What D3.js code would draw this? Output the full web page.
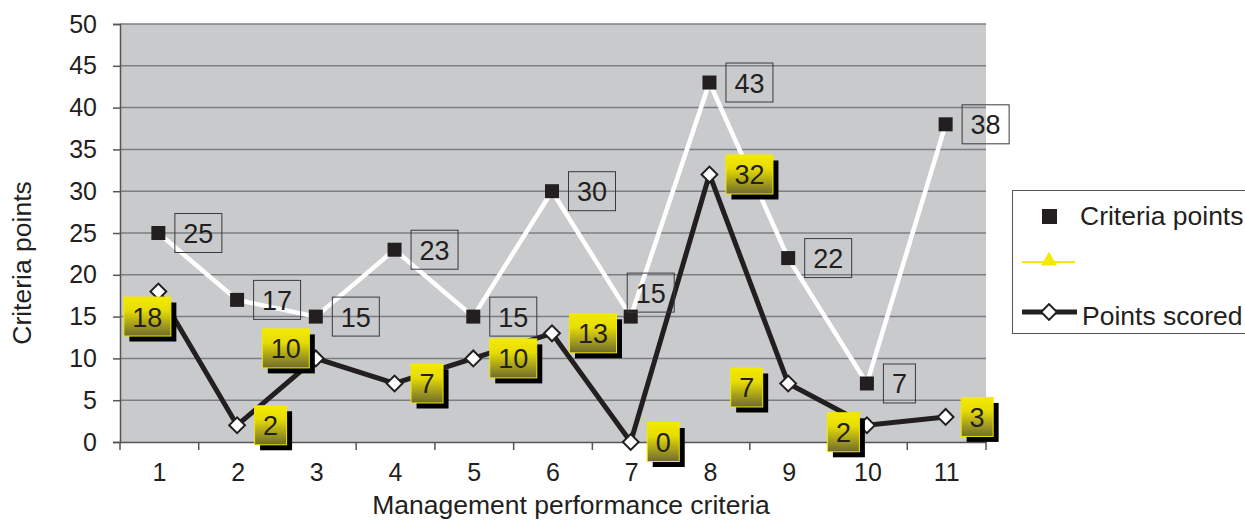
<!DOCTYPE html>
<html>
  <head>
    <meta charset="utf-8" />
    <title>Management performance criteria</title>
    <script src="https://d3js.org/d3.v7.min.js"></script>
    <style>
      body {
        margin: 0;
        background: #fff;
        font-family: Arial, "Liberation Sans", sans-serif;
      }
      svg {
        display: block;
      }
    </style>
  </head>
  <body>
    <svg id="chart"></svg>
    <script>
      // data
      const criteria = ["1", "2", "3", "4", "5", "6", "7", "8", "9", "10", "11"];
      const criteriaPoints = [25, 17, 15, 23, 15, 30, 15, 43, 22, 7, 38];
      const pointsScored = [18, 2, 10, 7, 10, 13, 0, 32, 7, 2, 3];
      const yTicks = [0, 5, 10, 15, 20, 25, 30, 35, 40, 45, 50];
      const legendNames = ["Criteria points", "", "Points scored"];

      // where the labels sit next to their point (layout, not data)
      const boxPlace = [
        [16, 0], [16, 0], [16, 0], [16, 0], [16, 0], [16, 0],
        [-4, -24], [16, 0], [16, 0], [16, 0], [16, 0]
      ];
      const flagPlace = [
        [-35, 25], [17, 0], [-54, -10], [16, 0], [16, 0], [17, 0],
        [16, 0], [16, 0], [-58, 4], [-40, 7], [15, 0]
      ];

      const W = 1245, H = 524;
      const svg = d3.select("#chart").attr("width", W).attr("height", H);

      const plot = { left: 120, right: 986, top: 24, bottom: 442 };

      const x = d3.scaleBand().domain(criteria).range([plot.left, plot.right]);
      const y = d3.scaleLinear().domain([0, 50]).range([plot.bottom, plot.top]);
      const cx = (i) => x(criteria[i]) + x.bandwidth() / 2 - 1;

      const font = (px) => `${px}px Arial, 'Liberation Sans', sans-serif`;

      // gradient for the yellow labels
      const defs = svg.append("defs");
      const grad = defs.append("linearGradient")
        .attr("id", "flag").attr("x1", 0).attr("y1", 0).attr("x2", 0).attr("y2", 1);
      grad.append("stop").attr("offset", "0%").attr("stop-color", "#f3ea00");
      grad.append("stop").attr("offset", "35%").attr("stop-color", "#e6dc04");
      grad.append("stop").attr("offset", "100%").attr("stop-color", "#6e6b2f");

      // plot background
      svg.append("rect")
        .attr("x", plot.left).attr("y", plot.top)
        .attr("width", plot.right - plot.left).attr("height", plot.bottom - plot.top)
        .attr("fill", "#c9cacc");

      // gridlines
      svg.append("g")
        .selectAll("line")
        .data(yTicks.filter(d => d > 0))
        .join("line")
        .attr("x1", plot.left).attr("x2", plot.right)
        .attr("y1", d => y(d)).attr("y2", d => y(d))
        .attr("stroke", "#7d7e80").attr("stroke-width", 1.5);

      // y axis
      const gy = svg.append("g")
        .attr("transform", `translate(${plot.left},0)`)
        .call(d3.axisLeft(y).tickValues(yTicks).tickSize(7).tickPadding(16));
      gy.selectAll("path, line").attr("stroke", "#555").attr("stroke-width", 1.5);
      gy.selectAll("text").attr("fill", "#231f20").style("font", font(25));

      // x axis, ticks between categories
      const gx = svg.append("g")
        .attr("transform", `translate(0,${plot.bottom})`)
        .call(d3.axisBottom(x).tickSize(0).tickPadding(21));
      gx.select("path").attr("stroke", "#555").attr("stroke-width", 1.5);
      gx.selectAll("text").attr("fill", "#231f20").style("font", font(25));
      gx.append("g")
        .selectAll("line")
        .data(criteria.concat(["end"]))
        .join("line")
        .attr("x1", (d, i) => plot.left + i * x.bandwidth())
        .attr("x2", (d, i) => plot.left + i * x.bandwidth())
        .attr("y1", 0).attr("y2", 8)
        .attr("stroke", "#555").attr("stroke-width", 1.5);

      // axis titles
      svg.append("text")
        .attr("transform", `translate(31,263) rotate(-90)`)
        .attr("text-anchor", "middle")
        .attr("fill", "#231f20")
        .style("font", font(26.5))
        .text("Criteria points");
      svg.append("text")
        .attr("x", 571).attr("y", 514)
        .attr("text-anchor", "middle")
        .attr("fill", "#231f20")
        .style("font", font(26.5))
        .text("Management performance criteria");

      // lines
      const line = (vals) => d3.line().x((d, i) => cx(i)).y(d => y(d))(vals);
      svg.append("path").attr("d", line(criteriaPoints))
        .attr("fill", "none").attr("stroke", "#fff").attr("stroke-width", 4.5);
      svg.append("path").attr("d", line(pointsScored))
        .attr("fill", "none").attr("stroke", "#231f20").attr("stroke-width", 5);

      // markers
      svg.append("g").selectAll("rect")
        .data(criteriaPoints)
        .join("rect")
        .attr("x", (d, i) => cx(i) - 7).attr("y", d => y(d) - 7)
        .attr("width", 14).attr("height", 14)
        .attr("fill", "#231f20");
      const diamond = d3.symbol().type(d3.symbolSquare).size(125);
      svg.append("g").selectAll("path")
        .data(pointsScored)
        .join("path")
        .attr("d", diamond)
        .attr("transform", (d, i) => `translate(${cx(i)},${y(d)}) rotate(45)`)
        .attr("fill", "#fff").attr("stroke", "#231f20").attr("stroke-width", 2);

      const labelFont = font(27);
      const boxW = (v) => (String(v).length > 1 ? 47 : 32);

      // boxed labels of criteria points
      const boxes = svg.append("g").selectAll("g")
        .data(criteriaPoints)
        .join("g")
        .attr("transform", (d, i) =>
          `translate(${cx(i) + boxPlace[i][0]},${y(d) + boxPlace[i][1] - 20})`);
      boxes.append("rect")
        .attr("x", 0.5).attr("y", 0.5)
        .attr("width", d => boxW(d)).attr("height", 39)
        .attr("fill", "none").attr("stroke", "#3a3a3c").attr("stroke-width", 1);
      boxes.append("text")
        .attr("x", d => boxW(d) / 2 + 0.5).attr("y", 30)
        .attr("text-anchor", "middle")
        .attr("fill", "#231f20")
        .style("font", labelFont)
        .text(d => d);

      // yellow labels of points scored
      const flags = svg.append("g").selectAll("g")
        .data(pointsScored)
        .join("g")
        .attr("transform", (d, i) =>
          `translate(${cx(i) + flagPlace[i][0]},${y(d) + flagPlace[i][1] - 20})`);
      flags.append("rect")
        .attr("x", 6).attr("y", 6)
        .attr("width", d => boxW(d)).attr("height", 39)
        .attr("fill", "#000");
      flags.append("rect")
        .attr("x", 0.5).attr("y", 0.5)
        .attr("width", d => boxW(d)).attr("height", 39)
        .attr("fill", "url(#flag)").attr("stroke", "#f3ea00").attr("stroke-width", 1);
      flags.append("text")
        .attr("x", d => boxW(d) / 2 + 0.5).attr("y", 30)
        .attr("text-anchor", "middle")
        .attr("fill", "#231f20")
        .style("font", labelFont)
        .text(d => d);

      // legend
      const lg = svg.append("g").attr("transform", "translate(1012,190)");
      lg.append("rect")
        .attr("x", 0.5).attr("y", 0.5).attr("width", 260).attr("height", 143)
        .attr("fill", "#fff").attr("stroke", "#555").attr("stroke-width", 1);
      lg.append("rect").attr("x", 30).attr("y", 19).attr("width", 15).attr("height", 15)
        .attr("fill", "#231f20");
      lg.append("line").attr("x1", 10).attr("x2", 63).attr("y1", 72).attr("y2", 72)
        .attr("stroke", "#f3ea00").attr("stroke-width", 2);
      lg.append("path")
        .attr("d", d3.symbol().type(d3.symbolTriangle).size(110))
        .attr("transform", "translate(37,71)")
        .attr("fill", "#f3ea00");
      lg.append("line").attr("x1", 10).attr("x2", 65).attr("y1", 122).attr("y2", 122)
        .attr("stroke", "#231f20").attr("stroke-width", 5);
      lg.append("path")
        .attr("d", diamond)
        .attr("transform", "translate(37,122) rotate(45)")
        .attr("fill", "#fff").attr("stroke", "#231f20").attr("stroke-width", 2);
      lg.selectAll("text.name")
        .data(legendNames)
        .join("text")
        .attr("class", "name")
        .attr("x", (d, i) => (i === 2 ? 70 : 68))
        .attr("y", (d, i) => 35 + i * 50)
        .attr("fill", "#231f20")
        .style("font", font(26.5))
        .text(d => d);
    </script>
  </body>
</html>
